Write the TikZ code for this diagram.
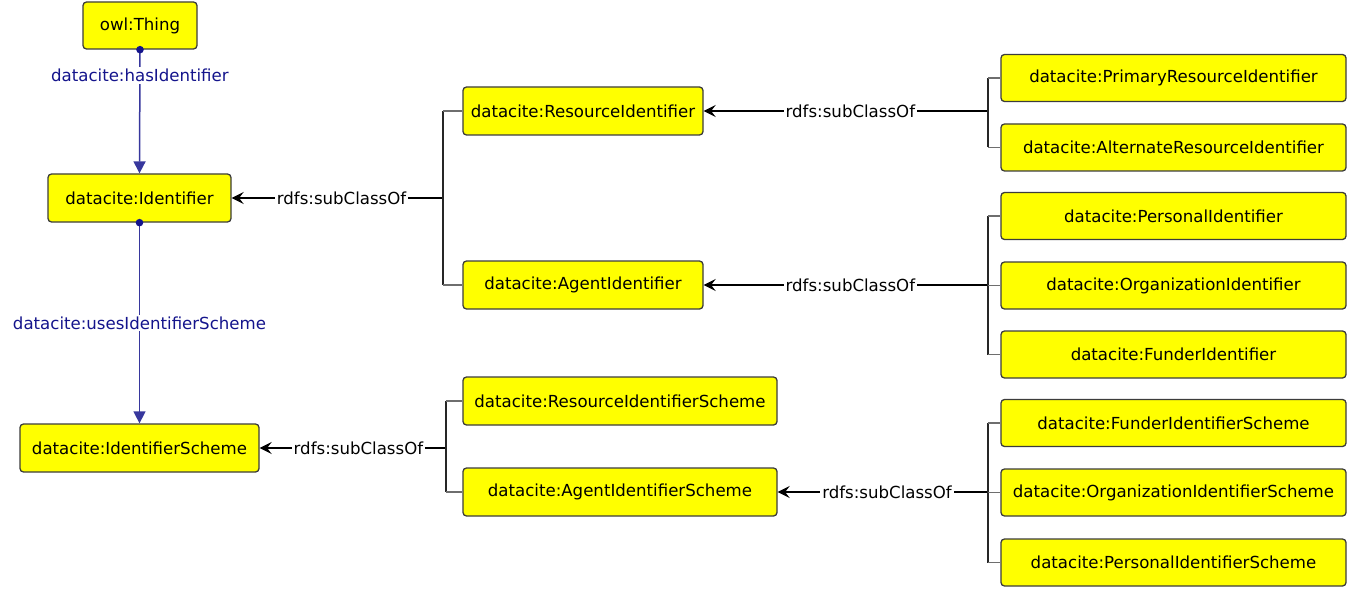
\documentclass[tikz,border=0pt]{standalone}
\usepackage{fontspec}
\setmainfont{DejaVu Sans}
\usetikzlibrary{arrows.meta}
\definecolor{boxyellow}{RGB}{255,255,0}
\definecolor{boxborder}{RGB}{60,60,60}
\definecolor{propblue}{RGB}{20,20,140}
\definecolor{stubgray}{RGB}{110,110,110}
\tikzset{
  cls/.style={draw=boxborder, fill=boxyellow, line width=1.3pt, rounded corners=3.5pt,
    inner sep=0pt, font=\fontsize{16.6pt}{20pt}\selectfont, text=black},
  prop/.style={draw=propblue!85!white, line width=1.5pt, -{Triangle[length=12pt,width=12pt]}},
  proplabel/.style={fill=white, text=propblue, inner sep=2pt, font=\fontsize{16.6pt}{20pt}\selectfont},
  sub/.style={draw=black, line width=1.5pt, -{Stealth[length=12pt,width=12pt,inset=4.5pt]}},
  sublabel/.style={fill=white, text=black, inner sep=2pt, font=\fontsize{16.6pt}{20pt}\selectfont},
  stub/.style={draw=stubgray, line width=1.4pt},
  bar/.style={draw=black!85, line width=1.4pt},
}
\begin{document}
\begin{tikzpicture}[x=1pt,y=-1pt]
\useasboundingbox (0,0) rectangle (1355,591);
% left column
\node[cls, minimum width=114pt, minimum height=47pt] (thing) at (140,25.5) {owl:Thing};
\node[cls, minimum width=183pt, minimum height=48pt] (ident) at (139.5,198) {datacite:Identifier};
\node[cls, minimum width=239pt, minimum height=48pt] (scheme) at (139.5,448) {datacite:IdentifierScheme};
% middle column
\node[cls, minimum width=240pt, minimum height=48pt] (ri) at (583,111) {datacite:ResourceIdentifier};
\node[cls, minimum width=240pt, minimum height=48pt] (ai) at (583,285) {datacite:AgentIdentifier};
\node[cls, minimum width=314pt, minimum height=48pt] (ris) at (620,401) {datacite:ResourceIdentifierScheme};
\node[cls, minimum width=314pt, minimum height=48pt] (ais) at (620,492) {datacite:AgentIdentifierScheme};
% right column
\node[cls, minimum width=345pt, minimum height=47pt] (pri) at (1173.5,78) {datacite:PrimaryResourceIdentifier};
\node[cls, minimum width=345pt, minimum height=47pt] (ari) at (1173.5,147.5) {datacite:AlternateResourceIdentifier};
\node[cls, minimum width=345pt, minimum height=47pt] (pi) at (1173.5,216) {datacite:PersonalIdentifier};
\node[cls, minimum width=345pt, minimum height=47pt] (oi) at (1173.5,285.5) {datacite:OrganizationIdentifier};
\node[cls, minimum width=345pt, minimum height=47pt] (fi) at (1173.5,354.5) {datacite:FunderIdentifier};
\node[cls, minimum width=345pt, minimum height=47pt] (fis) at (1173.5,423) {datacite:FunderIdentifierScheme};
\node[cls, minimum width=345pt, minimum height=47pt] (ois) at (1173.5,492.5) {datacite:OrganizationIdentifierScheme};
\node[cls, minimum width=345pt, minimum height=47pt] (pis) at (1173.5,562.5) {datacite:PersonalIdentifierScheme};
% branch points
\coordinate (b1) at (443,198);
\coordinate (b2) at (988,111);
\coordinate (b3) at (988,285);
\coordinate (b4) at (446,448);
\coordinate (b5) at (988,492);
% object properties
\draw[prop] (thing.south) -- node[proplabel, pos=0.21] {datacite:hasIdentifier} (ident.north);
\fill[propblue] (thing.south) circle (3.8pt);
\draw[prop] (ident.south) -- node[proplabel, pos=0.5] {datacite:usesIdentifierScheme} (scheme.north);
\fill[propblue] (ident.south) circle (3.8pt);
% subclass connectors
\draw[sub] (b1) -- node[sublabel, pos=0.48] {rdfs:subClassOf} (ident.east);
\draw[bar] (ri.west -| b1) -- (ai.west -| b1);
\draw[stub] (ri.west -| b1) -- (ri.west);
\draw[stub] (ai.west -| b1) -- (ai.west);

\draw[sub] (b2) -- node[sublabel, pos=0.484] {rdfs:subClassOf} (ri.east);
\draw[bar] (pri.west -| b2) -- (ari.west -| b2);
\draw[stub] (pri.west -| b2) -- (pri.west);
\draw[stub] (ari.west -| b2) -- (ari.west);

\draw[sub] (b3) -- node[sublabel, pos=0.484] {rdfs:subClassOf} (ai.east);
\draw[bar] (pi.west -| b3) -- (fi.west -| b3);
\draw[stub] (pi.west -| b3) -- (pi.west);
\draw[stub] (oi.west -| b3) -- (oi.west);
\draw[stub] (fi.west -| b3) -- (fi.west);

\draw[sub] (b4) -- node[sublabel, pos=0.47] {rdfs:subClassOf} (scheme.east);
\draw[bar] (ris.west -| b4) -- (ais.west -| b4);
\draw[stub] (ris.west -| b4) -- (ris.west);
\draw[stub] (ais.west -| b4) -- (ais.west);

\draw[sub] (b5) -- node[sublabel, pos=0.48] {rdfs:subClassOf} (ais.east);
\draw[bar] (fis.west -| b5) -- (pis.west -| b5);
\draw[stub] (fis.west -| b5) -- (fis.west);
\draw[stub] (ois.west -| b5) -- (ois.west);
\draw[stub] (pis.west -| b5) -- (pis.west);
\end{tikzpicture}
\end{document}
